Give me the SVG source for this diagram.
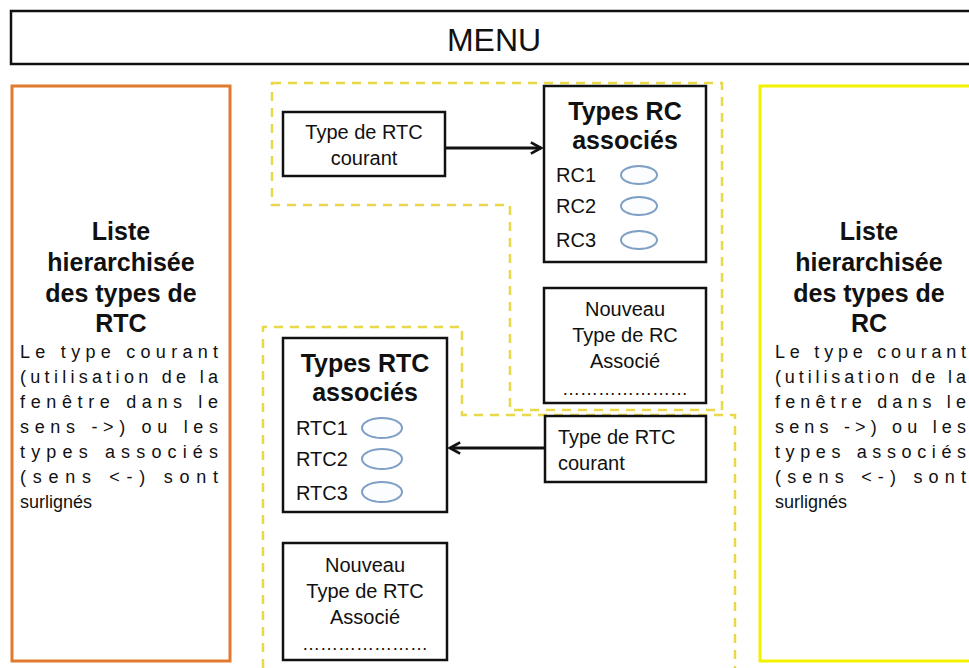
<svg xmlns="http://www.w3.org/2000/svg" width="969" height="668" viewBox="0 0 969 668">
<defs>
<style>
text{font-family:"Liberation Sans",Arial,sans-serif;fill:#111}
.box{fill:#fff;stroke:#111;stroke-width:2.5}
.dash{fill:none;stroke:#e8d84a;stroke-width:2.5;stroke-dasharray:9 7}
.t{font-size:20px}
.s{font-size:18px}
.b{font-size:25px;font-weight:bold}
.ov{fill:#fbfdff;stroke:#7f9fc4;stroke-width:2}
.c{text-anchor:middle}
.conn{stroke:#111;stroke-width:3;fill:none}
</style>
<marker id="ah" viewBox="0 0 12 12" refX="10" refY="6" markerWidth="4.5" markerHeight="4.5" orient="auto" markerUnits="strokeWidth">
<path d="M1,1 L10,6 L1,11" fill="none" stroke="#111" stroke-width="2.4"/>
</marker>
</defs>
<rect width="969" height="668" fill="#fff"/>
<g id="menu">
<rect x="11" y="11" width="970" height="53" fill="#fff" stroke="#111" stroke-width="2.5"/>
<text x="494" y="51" class="c" style="font-size:32px">MENU</text>
</g>
<g id="regions">
<path class="dash" d="M272,83 H722 V410 H510 V205 H272 Z"/>
<path class="dash" d="M263,668 V327 H462 V415 H735 V668"/>
</g>
<g id="left-list">
<rect x="12" y="86" width="218" height="575" fill="#fff" stroke="#e07a2c" stroke-width="3"/>
<text class="b c" x="121" y="240">Liste</text>
<text class="b c" x="121" y="271">hierarchisée</text>
<text class="b c" x="121" y="302">des types de</text>
<text class="b c" x="121" y="332">RTC</text>
<text class="s" x="20" y="358" textLength="198" lengthAdjust="spacing">Le type courant</text>
<text class="s" x="20" y="383" textLength="198" lengthAdjust="spacing">(utilisation de la</text>
<text class="s" x="20" y="408" textLength="198" lengthAdjust="spacing">fenêtre dans le</text>
<text class="s" x="20" y="433" textLength="198" lengthAdjust="spacing">sens -&gt;) ou les</text>
<text class="s" x="20" y="458" textLength="198" lengthAdjust="spacing">types associés</text>
<text class="s" x="20" y="483" textLength="198" lengthAdjust="spacing">(sens &lt;-) sont</text>
<text class="s" x="20" y="508">surlignés</text>
</g>
<g id="right-list">
<rect x="760" y="86" width="215" height="575" fill="#fff" stroke="#f2f200" stroke-width="3"/>
<text class="b c" x="869" y="240">Liste</text>
<text class="b c" x="869" y="271">hierarchisée</text>
<text class="b c" x="869" y="302">des types de</text>
<text class="b c" x="869" y="332">RC</text>
<text class="s" x="775" y="358" textLength="191" lengthAdjust="spacing">Le type courant</text>
<text class="s" x="775" y="383" textLength="191" lengthAdjust="spacing">(utilisation de la</text>
<text class="s" x="775" y="408" textLength="191" lengthAdjust="spacing">fenêtre dans le</text>
<text class="s" x="775" y="433" textLength="191" lengthAdjust="spacing">sens -&gt;) ou les</text>
<text class="s" x="775" y="458" textLength="191" lengthAdjust="spacing">types associés</text>
<text class="s" x="775" y="483" textLength="191" lengthAdjust="spacing">(sens &lt;-) sont</text>
<text class="s" x="775" y="508">surlignés</text>
</g>
<g id="rtc-courant-top">
<rect class="box" x="283" y="112" width="162" height="64"/>
<text class="t c" x="364" y="139">Type de RTC</text>
<text class="t c" x="364" y="165">courant</text>
</g>
<g id="types-rc-associes">
<rect class="box" x="544" y="86" width="162" height="176"/>
<text class="b c" x="625" y="120">Types RC</text>
<text class="b c" x="625" y="149">associés</text>
<text class="t" x="556" y="182">RC1</text>
<text class="t" x="556" y="213">RC2</text>
<text class="t" x="556" y="247">RC3</text>
<ellipse class="ov" cx="639" cy="175" rx="18" ry="9"/>
<ellipse class="ov" cx="639" cy="206" rx="18" ry="9"/>
<ellipse class="ov" cx="639" cy="240" rx="18" ry="9"/>
</g>
<g id="nouveau-rc">
<rect class="box" x="544" y="288" width="162" height="115"/>
<text class="t c" x="625" y="316">Nouveau</text>
<text class="t c" x="625" y="342">Type de RC</text>
<text class="t c" x="625" y="368">Associé</text>
<text class="s c" x="625" y="395">…………………</text>
</g>
<g id="types-rtc-associes">
<rect class="box" x="283" y="338" width="164" height="174"/>
<text class="b c" x="365" y="372">Types RTC</text>
<text class="b c" x="365" y="401">associés</text>
<text class="t" x="296" y="435">RTC1</text>
<text class="t" x="296" y="466">RTC2</text>
<text class="t" x="296" y="500">RTC3</text>
<ellipse class="ov" cx="382" cy="428" rx="20" ry="10"/>
<ellipse class="ov" cx="382" cy="459" rx="20" ry="10"/>
<ellipse class="ov" cx="382" cy="492" rx="20" ry="10"/>
</g>
<g id="rtc-courant-bottom">
<rect class="box" x="545" y="416" width="161" height="66"/>
<text class="t" x="558" y="444">Type de RTC</text>
<text class="t" x="558" y="470">courant</text>
</g>
<g id="nouveau-rtc">
<rect class="box" x="283" y="543" width="164" height="117"/>
<text class="t c" x="365" y="572">Nouveau</text>
<text class="t c" x="365" y="598">Type de RTC</text>
<text class="t c" x="365" y="624">Associé</text>
<text class="s c" x="365" y="650">…………………</text>
</g>
<g id="connectors">
<line class="conn" x1="446" y1="148" x2="541" y2="148" marker-end="url(#ah)"/>
<line class="conn" x1="544" y1="448" x2="450" y2="448" marker-end="url(#ah)"/>
</g>
</svg>
